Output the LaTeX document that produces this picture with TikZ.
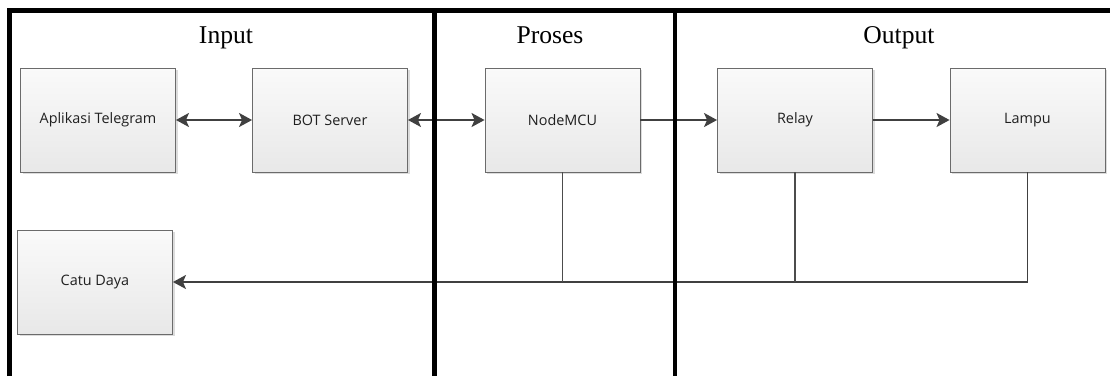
\documentclass[tikz,border=0pt]{standalone}
\usepackage{fontspec}
\setmainfont{Liberation Serif}
\newfontfamily\boxfont{Open Sans}
\usetikzlibrary{arrows.meta,shadows}
\begin{document}
\begin{tikzpicture}[x=1pt,y=-1pt,
  blk/.style={draw=black!58, line width=0.9pt, top color=white!98!black, bottom color=black!9,
    minimum width=155pt, minimum height=104pt, inner sep=0pt, text=black!88,
    font=\boxfont\fontsize{14.4}{16}\selectfont,
    drop shadow={shadow xshift=2pt, shadow yshift=-2pt, fill=black!30, opacity=0.45}},
  ttl/.style={anchor=base, font=\fontsize{25.6}{28}\selectfont},
  conn/.style={draw=black!75, line width=1.9pt},
  tipa/.tip={Stealth[length=13pt,width=14pt,inset=3pt]},
  feed/.style={draw=black!70, line width=1.5pt},
  frame/.style={draw=black, line width=5pt}]
\useasboundingbox (0,0) rectangle (1110,376);
% boxes
\node[blk] (apl) at (98,120) {Aplikasi Telegram};
\node[blk] (bot) at (330,120) {BOT Server};
\node[blk] (mcu) at (562.5,120) {NodeMCU};
\node[blk] (relay) at (795,120) {Relay};
\node[blk] (lampu) at (1027.5,120) {Lampu};
\node[blk] (catu) at (95,282) {Catu Daya};
% connectors
\draw[conn, tipa-tipa] (apl) -- (bot);
\draw[conn, tipa-tipa] (bot) -- (mcu);
\draw[conn, -tipa] (mcu) -- (relay);
\draw[conn, -tipa] (relay) -- (lampu);
\draw[conn, -tipa] (lampu.south) |- (catu.east);
\draw[feed] (mcu.south) -- (mcu.south |- catu.east);
\draw[feed] (relay.south) -- (relay.south |- catu.east);
% frame
\draw[frame] (9.5,376) -- (9.5,10) -- (1110,10);
\draw[frame, line width=4.5pt] (434.7,10) -- (434.7,376);
\draw[frame, line width=4.5pt] (675,10) -- (675,376);
% titles
\node[ttl] (tin) at (226,43) {Input};
\node[ttl] (tpr) at (550,43) {Proses};
\node[ttl] (tout) at (899,43) {Output};
\end{tikzpicture}
\end{document}
